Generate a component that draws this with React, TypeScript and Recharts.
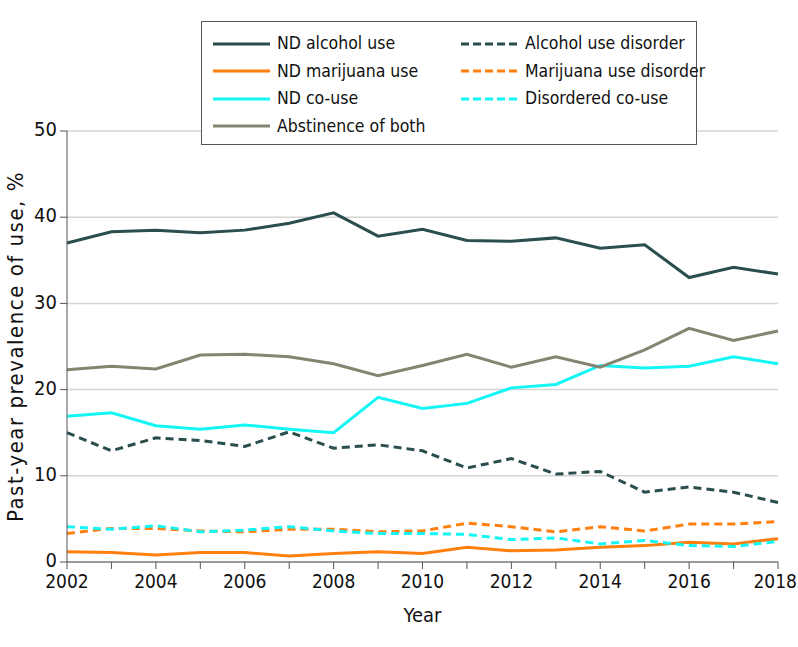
import React from "react";
import { LineChart, Line, XAxis, YAxis, CartesianGrid, Label } from "recharts";

const years = [2002, 2003, 2004, 2005, 2006, 2007, 2008, 2009, 2010, 2011, 2012, 2013, 2014, 2015, 2016, 2017, 2018];

const ndAlcohol = [37.0, 38.3, 38.5, 38.2, 38.5, 39.3, 40.5, 37.8, 38.6, 37.3, 37.2, 37.6, 36.4, 36.8, 33.0, 34.2, 33.4];
const ndMarijuana = [1.2, 1.1, 0.8, 1.1, 1.1, 0.7, 1.0, 1.2, 1.0, 1.7, 1.3, 1.4, 1.7, 1.9, 2.3, 2.1, 2.7];
const ndCoUse = [16.9, 17.3, 15.8, 15.4, 15.9, 15.4, 15.0, 19.1, 17.8, 18.4, 20.2, 20.6, 22.8, 22.5, 22.7, 23.8, 23.0];
const abstinence = [22.3, 22.7, 22.4, 24.0, 24.1, 23.8, 23.0, 21.6, 22.8, 24.1, 22.6, 23.8, 22.6, 24.6, 27.1, 25.7, 26.8];
const alcoholDisorder = [15.0, 12.9, 14.4, 14.1, 13.4, 15.1, 13.2, 13.6, 12.9, 10.9, 12.0, 10.2, 10.5, 8.1, 8.7, 8.1, 6.9];
const marijuanaDisorder = [3.3, 3.9, 3.9, 3.6, 3.5, 3.8, 3.8, 3.5, 3.6, 4.5, 4.1, 3.5, 4.1, 3.6, 4.4, 4.4, 4.7];
const disorderedCoUse = [4.1, 3.8, 4.2, 3.5, 3.7, 4.1, 3.6, 3.3, 3.3, 3.2, 2.6, 2.8, 2.1, 2.5, 1.9, 1.8, 2.4];

const yTicks = [0, 10, 20, 30, 40, 50];

const FONT = "'DejaVu Sans Condensed', 'Open Sans', sans-serif";
const DARK = "#2a4d4e";
const ORANGE = "#ff7f0f";
const CYAN = "#14f5f5";
const GRAY = "#848470";
const DASH = "8 5";

const series = [
  { key: "ndAlcohol", name: "ND alcohol use", color: DARK, dashed: false },
  { key: "ndMarijuana", name: "ND marijuana use", color: ORANGE, dashed: false },
  { key: "ndCoUse", name: "ND co-use", color: CYAN, dashed: false },
  { key: "abstinence", name: "Abstinence of both", color: GRAY, dashed: false },
  { key: "alcoholDisorder", name: "Alcohol use disorder", color: DARK, dashed: true },
  { key: "marijuanaDisorder", name: "Marijuana use disorder", color: ORANGE, dashed: true },
  { key: "disorderedCoUse", name: "Disordered co-use", color: CYAN, dashed: true },
];

const data = years.map((year, i) => ({
  year,
  ndAlcohol: ndAlcohol[i],
  ndMarijuana: ndMarijuana[i],
  ndCoUse: ndCoUse[i],
  abstinence: abstinence[i],
  alcoholDisorder: alcoholDisorder[i],
  marijuanaDisorder: marijuanaDisorder[i],
  disorderedCoUse: disorderedCoUse[i],
}));

// only even years get a label; keep the last one inside the page
function YearTick(props: any) {
  const { x, y, payload } = props;
  const v = payload.value as number;
  if (v % 2 !== 0) return null;
  const last = v === years[years.length - 1];
  return (
    <text
      x={last ? 797 : x}
      y={y}
      dy="0.71em"
      textAnchor={last ? "end" : "middle"}
      fill="#111"
      fontSize={19}
      fontFamily={FONT}
    >
      {v}
    </text>
  );
}

// legend box sits over the top of the plot, like the original figure
function LegendBox() {
  const left = series.filter((s) => !s.dashed);
  const right = series.filter((s) => s.dashed);
  const row = (s: (typeof series)[number]) => (
    <div key={s.key} style={{ display: "flex", alignItems: "center", height: 27.5, whiteSpace: "nowrap" }}>
      <svg width={57} height={6} style={{ marginRight: 7, flex: "none" }}>
        <line x1={0} y1={3} x2={57} y2={3} stroke={s.color} strokeWidth={3} strokeDasharray={s.dashed ? "8 4" : undefined} />
      </svg>
      <span>{s.name}</span>
    </div>
  );
  return (
    <div
      style={{
        position: "absolute",
        left: 201,
        top: 21,
        width: 496,
        height: 124,
        border: "1px solid #555",
        background: "#fff",
        boxSizing: "border-box",
        padding: "8px 0 0 11px",
        display: "flex",
        fontFamily: FONT,
        fontSize: 17.5,
        color: "#111",
        lineHeight: 1,
      }}
    >
      <div style={{ width: 248, flex: "none" }}>{left.map(row)}</div>
      <div>{right.map(row)}</div>
    </div>
  );
}

export default function App() {
  return (
    <div style={{ position: "absolute", left: 0, top: 0, width: 798, height: 647, background: "#fff" }}>
      <LineChart width={798} height={647} data={data} margin={{ top: 131, right: 20, bottom: 0, left: 0 }}>
        <CartesianGrid vertical={false} stroke="#d4d4d4" strokeWidth={1.5} />
        <XAxis
          dataKey="year"
          type="number"
          domain={[2002, 2018]}
          ticks={years}
          interval={0}
          stroke="#555"
          tickSize={7}
          tick={<YearTick />}
          height={85}
          tickMargin={6}
        >
          <Label value="Year" position="insideTop" offset={46} style={{ fill: "#111", fontSize: 20, fontFamily: FONT }} />
        </XAxis>
        <YAxis
          type="number"
          domain={[0, 50]}
          ticks={yTicks}
          interval={0}
          stroke="#555"
          tickSize={7}
          width={67}
          tick={{ fill: "#111", fontSize: 20, fontFamily: FONT, dy: -2 }}
          tickMargin={3}
        >
          <Label
            value="Past-year prevalence of use, %"
            angle={-90}
            position="insideLeft"
            offset={0}
            dx={15}
            style={{ fill: "#111", fontSize: 22, fontFamily: FONT, letterSpacing: 1.5, textAnchor: "middle" }}
          />
        </YAxis>
        {series.map((s) => (
          <Line
            key={s.key}
            dataKey={s.key}
            name={s.name}
            stroke={s.color}
            strokeWidth={3}
            strokeDasharray={s.dashed ? DASH : undefined}
            dot={false}
            type="linear"
            isAnimationActive={false}
          />
        ))}
      </LineChart>
      <LegendBox />
    </div>
  );
}
